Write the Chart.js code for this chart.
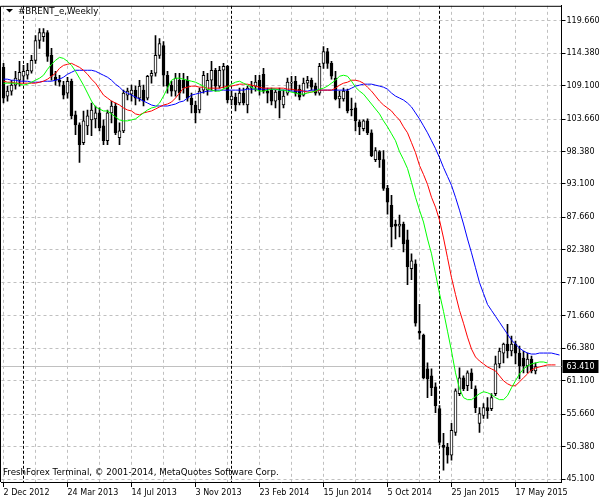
<!DOCTYPE html>
<html><head><meta charset="utf-8">
<script src="https://cdn.jsdelivr.net/npm/chart.js@4.4.1/dist/chart.umd.min.js"></script>
<style>html,body{margin:0;padding:0;background:#fff;}canvas{display:block;}</style>
</head><body>
<canvas id="c" width="600" height="500"></canvas>
<script>
const symbolTitle = '#BRENT_e,Weekly';
const copyrightText = 'FreshForex Terminal, \u00A9 2001-2014, MetaQuotes Software Corp.';
const xTickLabels = ['2 Dec 2012','24 Mar 2013','14 Jul 2013','3 Nov 2013','23 Feb 2014','15 Jun 2014','5 Oct 2014','25 Jan 2015','17 May 2015'];
const yTickValues = [45.1,50.38,55.66,61.1,66.38,71.66,77.1,82.38,87.66,93.1,98.38,103.66,109.1,114.38,119.66];
const weekSlots = 140;
const categories = Array.from({length: weekSlots}, (_, i) => i);
const yearStartWeeks = [5, 57, 109];
const lastPrice = 63.41;

const opens = [112.07,107.39,108.20,109.17,109.97,110.62,110.78,111.43,113.20,116.43,
117.07,117.72,114.01,110.46,109.97,109.17,107.88,109.81,104.33,102.71,
99.81,102.55,103.52,103.68,104.65,102.55,100.13,104.65,105.78,100.61,
101.74,107.55,107.71,108.36,107.07,108.36,107.07,110.62,111.10,114.01,
115.62,110.78,109.17,108.20,109.97,109.97,109.97,107.07,105.94,105.13,
108.36,108.36,109.97,111.59,109.01,111.59,112.23,106.75,107.23,106.26,
107.88,105.94,108.68,109.01,109.97,110.94,108.20,108.36,106.58,108.20,
105.94,107.88,109.49,109.81,108.52,107.55,109.49,109.97,109.01,107.88,
112.72,114.65,112.72,110.30,106.91,106.91,108.20,105.29,105.46,103.20,
102.07,103.36,101.42,97.06,98.35,97.06,92.38,89.64,86.58,86.25,
86.58,83.99,79.31,80.12,69.15,68.50,63.01,61.88,60.11,56.56,
50.59,50.26,48.97,52.68,58.98,61.56,60.27,62.37,59.79,54.14,
55.43,56.72,56.56,58.98,63.82,65.59,67.05,65.92,67.05,65.59,
64.79,63.50,64.63,62.69];
const highs = [112.72,109.01,109.97,111.43,113.04,112.39,112.72,114.01,117.24,118.37,
118.37,118.04,115.14,111.43,110.78,109.81,110.46,110.14,104.97,103.03,
104.97,105.13,106.26,105.78,105.46,103.52,105.13,106.58,106.26,103.03,
108.36,108.68,109.17,109.01,109.97,109.17,110.78,111.59,117.24,116.75,
116.27,111.43,109.81,111.10,111.10,111.10,110.62,107.88,106.58,108.68,
111.43,111.10,113.04,111.91,112.23,112.72,112.39,108.20,107.88,108.68,
108.68,109.01,109.81,110.78,110.78,111.91,108.68,108.68,108.36,108.68,
108.36,110.30,110.62,110.62,109.17,110.30,110.62,110.30,109.49,112.72,
115.46,115.14,113.04,111.43,108.20,108.68,108.52,107.07,106.26,103.52,
103.52,103.68,101.90,99.00,98.52,98.52,92.87,91.25,87.22,88.03,
86.90,85.61,81.73,80.76,73.50,68.66,63.98,63.01,60.75,57.04,
52.52,50.91,54.14,59.79,63.17,61.88,62.69,63.01,60.27,56.72,
57.37,58.33,58.98,65.11,66.40,67.21,70.27,68.34,67.53,66.72,
65.92,65.59,65.11,64.01];
const lows = [106.26,106.58,107.55,108.52,109.01,109.81,110.14,111.10,112.72,115.14,
116.27,113.04,109.97,109.17,109.01,106.91,107.07,103.68,101.10,96.58,
99.48,101.10,100.94,102.23,101.74,99.48,99.48,103.03,101.10,99.48,
101.42,106.75,106.58,105.94,106.58,105.78,106.75,109.49,110.62,113.52,
109.01,107.88,107.39,107.39,106.75,107.88,106.58,104.65,103.03,104.65,
107.88,107.55,108.36,108.20,108.68,108.68,106.26,105.94,104.97,105.94,
105.94,104.65,107.88,108.20,107.55,107.88,106.26,105.94,105.46,103.84,
105.46,107.55,108.36,107.39,106.75,107.39,108.68,108.36,107.55,107.55,
111.91,111.91,110.14,106.75,105.46,106.58,104.65,104.16,101.74,101.10,
101.74,101.10,97.55,96.74,95.77,92.06,88.19,82.86,84.15,84.48,
82.06,76.73,77.54,69.95,67.85,61.40,58.33,58.66,55.91,50.59,
46.55,47.68,48.17,52.20,58.66,59.46,59.46,59.79,55.91,52.68,
54.94,54.94,56.23,58.66,63.17,63.98,64.79,65.11,63.82,61.40,
62.37,62.37,62.37,62.20];
const closes = [107.07,108.20,109.17,110.30,111.26,111.43,111.59,113.20,116.43,117.72,
117.72,113.85,110.62,109.97,109.65,107.55,109.81,104.16,102.71,99.48,
103.36,104.16,105.13,104.65,102.23,100.13,104.65,105.78,101.42,101.74,
107.88,108.20,108.36,107.07,109.01,106.58,110.62,111.10,114.01,115.94,
110.78,109.01,108.20,110.30,107.88,108.68,107.07,105.94,104.65,108.20,
110.78,109.97,111.59,109.01,111.59,112.23,106.75,107.39,105.94,107.88,
106.26,108.68,109.01,109.65,108.36,108.20,107.88,106.58,108.04,106.75,
107.39,109.65,109.57,107.88,107.23,109.49,109.97,108.84,107.88,112.23,
114.65,112.72,110.62,106.91,107.39,108.20,104.97,105.13,103.36,102.39,
103.36,101.42,97.71,98.52,97.06,92.38,90.12,86.09,86.25,86.58,
83.35,79.63,80.60,70.44,68.82,61.56,61.40,59.95,57.04,51.07,
50.26,48.97,53.01,59.46,61.56,59.79,62.37,61.08,56.72,55.75,
56.72,56.23,58.33,63.82,65.92,67.05,65.92,67.05,65.59,63.50,
63.50,64.63,62.69,63.41];

// Alligator lines as drawn (already shifted), one value per week slot
const lipsGreen = [109.49,109.49,109.49,109.49,109.33,109.17,109.33,109.65,109.97,110.30,
110.78,111.75,112.56,113.20,113.69,113.52,113.04,112.39,111.43,110.30,
109.17,107.88,106.58,105.62,105.29,104.97,104.97,104.49,104.00,103.52,
103.36,103.36,103.52,103.68,104.16,104.65,105.13,105.46,105.62,106.26,
107.39,108.68,109.97,110.30,110.30,110.14,109.97,109.81,109.65,109.33,
109.01,108.52,108.36,108.20,108.20,108.52,108.84,109.33,109.65,109.81,
109.49,109.17,108.84,108.52,108.20,108.20,108.36,108.52,108.52,108.36,
108.36,108.20,108.04,107.88,107.71,107.71,107.88,108.04,108.20,108.52,
108.68,109.01,109.49,109.97,110.62,110.78,110.62,109.81,108.84,108.20,
107.71,106.91,106.10,105.29,104.49,103.36,102.39,101.26,100.13,98.35,
97.06,95.61,93.35,90.93,88.83,86.90,84.15,81.73,78.51,75.28,
72.37,69.15,65.92,62.37,59.79,58.33,58.01,58.01,58.49,58.98,
59.30,59.14,58.82,58.33,58.01,58.01,58.66,59.95,61.08,62.20,
63.01,63.50,63.82,63.98,64.14,64.14,63.98];
const teethRed = [109.81,109.65,109.65,109.49,109.49,109.49,109.49,109.49,109.49,109.65,
109.81,110.14,110.62,111.10,111.91,112.39,112.56,112.72,112.39,112.07,
111.59,110.94,110.14,109.49,108.52,107.55,107.07,106.58,106.26,105.94,
105.46,105.13,104.97,104.49,104.33,104.65,104.81,104.97,105.29,105.62,
105.94,106.10,106.42,107.07,107.88,108.68,108.84,109.01,109.01,108.84,
108.84,108.68,108.68,108.68,108.68,108.84,109.01,109.01,109.17,109.33,
109.33,109.33,109.17,109.01,108.84,108.68,108.68,108.68,108.68,108.68,
108.68,108.52,108.52,108.36,108.36,108.20,108.04,108.04,108.20,108.36,
108.36,108.36,108.36,108.68,109.17,109.49,109.65,109.97,109.97,109.81,
109.49,108.84,108.20,107.39,106.58,105.94,105.46,104.97,104.16,103.52,
102.39,101.42,99.81,98.19,96.10,94.64,93.03,90.93,89.32,87.22,
84.31,81.09,77.86,75.12,72.53,70.44,68.18,66.24,64.95,64.30,
63.82,63.33,63.01,62.69,61.88,61.08,60.59,60.27,60.27,60.91,
61.56,62.20,62.85,63.17,63.33,63.50,63.66,63.66,63.66];
const jawBlue = [110.14,110.14,109.97,109.97,109.81,109.81,109.81,109.65,109.65,109.65,
109.81,109.81,109.81,109.97,110.14,110.46,110.94,111.26,111.59,111.59,
111.59,111.59,111.59,111.43,111.10,110.78,110.46,109.97,109.33,108.84,
108.20,107.88,107.55,107.23,106.91,106.58,106.26,105.94,105.78,105.78,
105.78,105.78,105.94,106.10,106.42,106.58,107.07,107.55,107.71,107.88,
108.04,108.20,108.20,108.36,108.36,108.36,108.36,108.36,108.36,108.36,
108.36,108.52,108.52,108.52,108.52,108.52,108.52,108.52,108.52,108.36,
108.36,108.36,108.20,108.20,108.20,108.20,108.20,108.36,108.36,108.36,
108.36,108.36,108.36,108.36,108.36,108.36,108.36,108.68,109.01,109.17,
109.33,109.33,109.33,109.17,109.01,108.84,108.52,107.88,107.39,107.07,
106.75,106.26,105.62,104.65,103.68,102.55,101.42,100.13,98.84,97.39,
95.77,94.32,92.87,90.93,88.83,86.58,84.15,81.89,79.47,77.05,
75.28,73.50,72.53,71.57,70.60,69.63,68.66,67.69,67.05,66.40,
65.92,65.59,65.43,65.43,65.59,65.59,65.59,65.59,65.43,65.27];

const wickData = lows.map((l, i) => [l, highs[i]]);
const bodyData = opens.map((o, i) => [o, closes[i]]);
const bodyFill = opens.map((o, i) => closes[i] >= o ? '#ffffff' : '#000000');

Chart.defaults.font.family = 'DejaVu Sans';
Chart.defaults.font.size = 8;
Chart.defaults.color = '#000000';

const overlay = {
  id: 'overlay',
  beforeDatasetsDraw(chart) {
    const {ctx, chartArea: a, scales: {x, y}} = chart;
    ctx.save();
    const py = Math.round(y.getPixelForValue(lastPrice)) + 0.5;
    ctx.strokeStyle = '#c0c0c0'; ctx.lineWidth = 1;
    ctx.beginPath(); ctx.moveTo(a.left, py); ctx.lineTo(a.right, py); ctx.stroke();
    ctx.strokeStyle = '#000000'; ctx.setLineDash([3, 2]);
    yearStartWeeks.forEach(w => {
      const px = x.getPixelForValue(w);
      ctx.beginPath(); ctx.moveTo(px, a.top); ctx.lineTo(px, a.bottom); ctx.stroke();
    });
    ctx.restore();
  },
  afterDraw(chart) {
    const {ctx, chartArea: a, scales: {y}} = chart;
    ctx.save();
    ctx.strokeStyle = '#000'; ctx.lineWidth = 1;
    ctx.beginPath(); ctx.moveTo(0.5, a.bottom); ctx.lineTo(0.5, a.top + 0.5); ctx.lineTo(a.right, a.top + 0.5); ctx.stroke();
    ctx.fillStyle = '#000';
    ctx.beginPath(); ctx.moveTo(6, 9); ctx.lineTo(13, 9); ctx.lineTo(9.5, 12.5); ctx.closePath(); ctx.fill();
    ctx.font = '8.7px "DejaVu Sans"'; ctx.textBaseline = 'alphabetic'; ctx.textAlign = 'left';
    ctx.fillText(symbolTitle, 18, 14);
    ctx.fillText(copyrightText, 3, 475);
    const py = Math.round(y.getPixelForValue(lastPrice));
    ctx.fillStyle = '#000';
    ctx.fillRect(a.right + 1, py - 6, 36, 13);
    ctx.fillStyle = '#fff'; ctx.textBaseline = 'middle';
    ctx.font = '8px "DejaVu Sans"';
    ctx.fillText(lastPrice.toFixed(3), a.right + 5, py + 0.5);
    ctx.restore();
  }
};

new Chart(document.getElementById('c'), {
  type: 'bar',
  data: {
    labels: categories,
    datasets: [
      { type: 'line', data: lipsGreen, borderColor: '#00ff00', borderWidth: 1, pointRadius: 0, fill: false, tension: 0, order: 0 },
      { type: 'line', data: teethRed, borderColor: '#ff0000', borderWidth: 1, pointRadius: 0, fill: false, tension: 0, order: 0 },
      { type: 'line', data: jawBlue, borderColor: '#0000ff', borderWidth: 1, pointRadius: 0, fill: false, tension: 0, order: 0 },
      { data: bodyData, backgroundColor: bodyFill, borderColor: '#000000', borderWidth: 1, borderSkipped: false, barThickness: 3, grouped: false, minBarLength: 1, order: 1 },
      { data: wickData, backgroundColor: '#000000', borderWidth: 0, barThickness: 1, grouped: false, order: 2 }
    ]
  },
  options: {
    responsive: false,
    animation: false,
    devicePixelRatio: 1,
    events: [],
    layout: { padding: { left: 1.5, top: 2, right: 0, bottom: 0 } },
    plugins: { legend: { display: false }, tooltip: { enabled: false } },
    scales: {
      x: {
        type: 'category',
        offset: true,
        afterBuildTicks(scale) {
          const t = [];
          for (let i = 0; i < weekSlots; i += 8) t.push({ value: i });
          scale.ticks = t;
        },
        afterFit(scale) { scale.height = 18; },
        grid: {
          offset: false,
          color: '#c0c0c0',
          lineWidth: 1,
          tickLength: 5,
          tickColor: ctx => (ctx.tick && ctx.tick.value % 16 === 0) ? '#000000' : 'rgba(0,0,0,0)'
        },
        border: { display: true, color: '#000000', width: 1, dash: [3, 3] },
        ticks: {
          autoSkip: false, maxRotation: 0, minRotation: 0, align: 'start', padding: 1,
          callback: (v) => (v % 16 === 0 ? xTickLabels[v / 16] : '')
        }
      },
      y: {
        type: 'linear',
        position: 'right',
        min: 44.615,
        max: 122.077,
        afterBuildTicks(scale) { scale.ticks = yTickValues.map(v => ({ value: v })); },
        afterFit(scale) { scale.width = 38.5; },
        grid: { color: '#c0c0c0', lineWidth: 1, tickLength: 4, tickColor: '#000000' },
        border: { display: true, color: '#000000', width: 1, dash: [3, 3] },
        ticks: { autoSkip: false, padding: 1, callback: v => v.toFixed(3) }
      }
    }
  },
  plugins: [overlay]
});
</script>
</body></html>
